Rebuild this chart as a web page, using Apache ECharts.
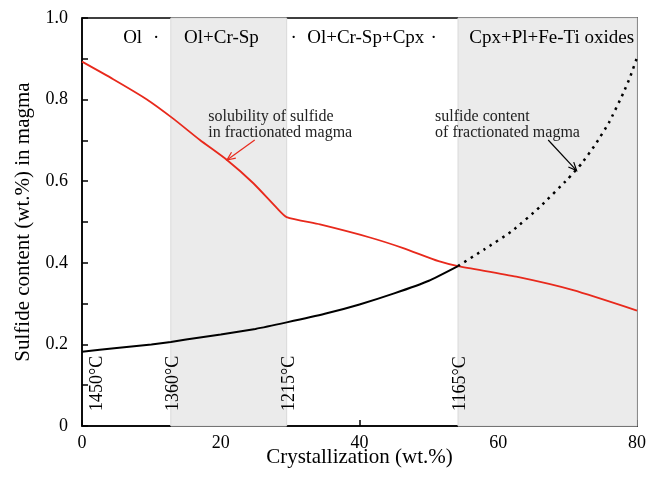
<!DOCTYPE html>
<html>
<head>
<meta charset="utf-8">
<script src="https://cdn.jsdelivr.net/npm/echarts@6/dist/echarts.min.js"></script>
<style>
html, body { margin: 0; padding: 0; background: #fff; }
#chart { width: 661px; height: 486px; }
</style>
</head>
<body>
<div id="chart"></div>
<script>
// Sulfide solubility in the fractionating melt (red curve)
const solubilityX = [0, 4.5, 9.3, 13.1, 17.0, 20.9, 24.7, 28.1, 29.5, 34.3, 41.5, 46.3, 51.4, 54.2, 62.6, 70.8, 80];
const solubilityY = [0.893, 0.850, 0.801, 0.754, 0.701, 0.652, 0.595, 0.534, 0.512, 0.494, 0.462, 0.436, 0.404, 0.392, 0.366, 0.333, 0.283];

// Sulfide content of the fractionated melt up to saturation (solid black)
const contentX = [0, 5, 10, 12.8, 15, 20, 25, 29.5, 35, 40, 45, 50, 54.2];
const contentY = [0.182, 0.191, 0.200, 0.206, 0.212, 0.224, 0.238, 0.254, 0.275, 0.298, 0.325, 0.356, 0.392];

// Sulfide content beyond saturation (dotted black)
const projectedX = [54.2, 58, 62, 66, 70, 72, 74, 76, 78, 79, 80];
const projectedY = [0.392, 0.433, 0.478, 0.537, 0.605, 0.643, 0.690, 0.745, 0.815, 0.855, 0.903];

// Crystallization stages (shaded bands) and their temperatures
const shadeRanges = [[12.8, 29.5], [54.2, 80]];
const tempLabels = ['1450°C', '1360°C', '1215°C', '1165°C'];
const tempX = [0, 12.8, 29.5, 54.2];

// Mineral assemblage labels along the top
const phaseLabels = ['Ol', '·', 'Ol+Cr-Sp', '·', 'Ol+Cr-Sp+Cpx', '·', 'Cpx+Pl+Fe-Ti oxides'];
const phaseX = [7.3, 10.7, 20.1, 30.5, 40.9, 50.7, 67.7];
const phaseY = 0.95;

// Axis ticks
const xTicks = [0, 20, 40, 60, 80];
const yTicks = [0, 0.2, 0.4, 0.6, 0.8, 1.0];

// Curve annotations: text lines, text anchor, arrow start and arrow tip
const notes = [
  { lines: ['solubility of sulfide', 'in fractionated magma'], at: [18.2, 0.777], from: [24.9, 0.701], to: [20.9, 0.652], color: '#e8291c' },
  { lines: ['sulfide content', 'of fractionated magma'], at: [50.9, 0.777], from: [67.2, 0.701], to: [71.3, 0.626], color: '#000' }
];

const FONT = '"Liberation Serif", "Times New Roman", serif';
const zip = (xs, ys) => xs.map((x, i) => [x, ys[i]]);

const chart = echarts.init(document.getElementById('chart'), null, { renderer: 'canvas' });

chart.setOption({
  animation: false,
  backgroundColor: '#fff',
  grid: { left: 82, right: 24, top: 18, bottom: 60, show: true, borderColor: '#000', borderWidth: 1.5, backgroundColor: 'transparent' },
  xAxis: {
    type: 'value', min: xTicks[0], max: xTicks[xTicks.length - 1], interval: 20,
    name: 'Crystallization (wt.%)', nameLocation: 'middle', nameGap: 21, nameMoveOverlap: false,
    nameTextStyle: { fontFamily: FONT, fontSize: 21, color: '#000' },
    axisLine: { show: true, lineStyle: { color: '#000', width: 1.5 } },
    axisTick: { show: true, inside: true, length: 6, lineStyle: { color: '#000', width: 1.5 } },
    axisLabel: { fontFamily: FONT, fontSize: 18, color: '#000', margin: 8 },
    splitLine: { show: false }
  },
  yAxis: {
    type: 'value', min: yTicks[0], max: yTicks[yTicks.length - 1], interval: 0.2,
    name: 'Sulfide content (wt.%) in magma', nameLocation: 'middle', nameGap: 48,
    nameTextStyle: { fontFamily: FONT, fontSize: 21, color: '#000' },
    axisLine: { show: true, lineStyle: { color: '#000', width: 1.5 } },
    axisTick: { show: true, inside: true, length: 6, lineStyle: { color: '#000', width: 1.5 } },
    minorTick: { show: true, splitNumber: 2, length: 6, lineStyle: { color: '#000', width: 1.5 } },
    axisLabel: { fontFamily: FONT, fontSize: 18, color: '#000', margin: 14,
      formatter: v => (v === 0 ? '0' : v.toFixed(1)) },
    splitLine: { show: false }
  },
  series: [
    {
      type: 'line', name: 'stages', data: [], silent: true, z: 1,
      markArea: {
        silent: true,
        itemStyle: { color: '#ebebeb', borderColor: '#dadada', borderWidth: 1 },
        data: shadeRanges.map(r => [{ xAxis: r[0] }, { xAxis: r[1] }])
      }
    },
    {
      type: 'line', name: 'solubility', data: zip(solubilityX, solubilityY), z: 3,
      showSymbol: false, smooth: 0.2,
      lineStyle: { color: '#e8291c', width: 1.8 }
    },
    {
      type: 'line', name: 'content', data: zip(contentX, contentY), z: 3,
      showSymbol: false, smooth: 0.15,
      lineStyle: { color: '#000', width: 2 }
    },
    {
      type: 'line', name: 'projected', data: zip(projectedX, projectedY), z: 3,
      showSymbol: false, smooth: 0.15,
      lineStyle: { color: '#000', width: 2.5, type: [2.5, 5] }
    }
  ]
});

// Text and arrows placed through the grid's own coordinate conversion
function px(p) { return chart.convertToPixel({ gridIndex: 0 }, p); }

const graphics = [];

phaseLabels.forEach((t, i) => {
  const p = px([phaseX[i], phaseY]);
  graphics.push({
    type: 'text', x: p[0], y: p[1], silent: true, z: 100,
    style: { text: t, fontFamily: FONT, fontSize: 19, fill: '#000', align: 'center', verticalAlign: 'middle' }
  });
});

tempLabels.forEach((t, i) => {
  const p = px([tempX[i], 0.037]);
  const dx = i === 0 ? 15 : 2.5;
  graphics.push({
    type: 'text', x: p[0] + dx, y: p[1], rotation: Math.PI / 2, silent: true, z: 100,
    style: { text: t, fontFamily: FONT, fontSize: 18, fill: '#000', align: 'left', verticalAlign: 'middle' }
  });
});

notes.forEach(n => {
  const a = px(n.at);
  graphics.push({
    type: 'text', x: a[0], y: a[1], silent: true, z: 100,
    style: { text: n.lines.join('\n'), fontFamily: FONT, fontSize: 16, lineHeight: 16, fill: '#222', align: 'left', verticalAlign: 'top' }
  });
  const s = px(n.from), e = px(n.to);
  const ang = Math.atan2(e[1] - s[1], e[0] - s[0]);
  const len = 9, spread = 0.42;
  graphics.push({
    type: 'polyline', silent: true, z: 100,
    shape: { points: [s, e] },
    style: { stroke: n.color, lineWidth: 1.2, fill: null }
  });
  graphics.push({
    type: 'polyline', silent: true, z: 100,
    shape: { points: [
      [e[0] - len * Math.cos(ang - spread), e[1] - len * Math.sin(ang - spread)],
      e,
      [e[0] - len * Math.cos(ang + spread), e[1] - len * Math.sin(ang + spread)]
    ] },
    style: { stroke: n.color, lineWidth: 1.2, fill: null }
  });
});

chart.setOption({ graphic: { elements: graphics } });
</script>
</body>
</html>
